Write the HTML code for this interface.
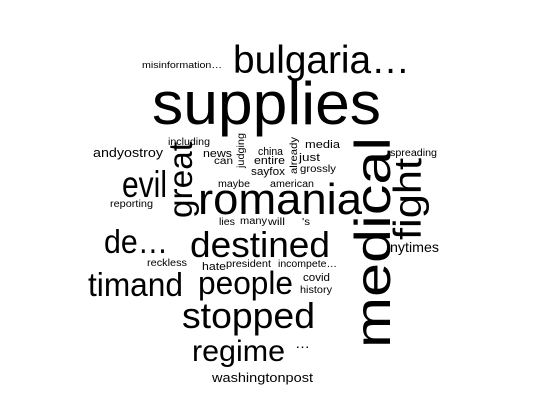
<!DOCTYPE html>
<html><head><meta charset="utf-8"><style>
html,body{margin:0;padding:0;background:#fff;}
svg{display:block;font-family:"Liberation Sans",Arial,sans-serif;}
</style></head><body>
<svg id="cloud" width="537" height="403" viewBox="0 0 537 403" xmlns="http://www.w3.org/2000/svg">
<rect width="537" height="403" fill="#fff"/>
</svg>
<script>
const words = ["supplies","medical","bulgaria…","romania","great","fight","evil","destined","de…","timand","people","stopped","regime","…","washingtonpost","nytimes","andyostroy","including","misinformation…","news","can","judging","china","entire","sayfox","already","media","just","grossly","spreading","maybe","american","reporting","lies","many","will","'s","reckless","hate","president","incompete…","covid","history"];
const sizes = [60,50,39,44,33,39,37,36,33,33,32,36,30,14,13,14,13,10,9,11,10,10,11,11,11,10,11,11,10,10,10,10,10,10,10,10,10,10,11,10,10,11,10];
const layout = [
 [152,124,229,0],[390,348,211,1],[233,73,177,0],[198,214,164,0],[192,218,76,1],[421,240,82,1],
 [122,197,45,0],[190,257,140,0],[104,253,64,0],[88,296,95,0],[198,294,95,0],[182,328,133,0],
 [192,361,93,0],[295,348,15,0],[212,382,101,0],[390,252,49,0],[93,157,70,0],[168,145,42,0],
 [142,68,80,0],[203,157,29,0],[214,164,19,0],[244,168,35,1],[258,155,25,0],[254,164,31,0],
 [251,175,34,0],[297,174,37,1],[305,148,35,0],[299,161,21,0],[300,172,36,0],[390,156,47,0],
 [218,187,32,0],[270,187,44,0],[110,207,43,0],[219,225,16,0],[240,224,27,0],[268,225,17,0],
 [302,225,8,0],[147,266,40,0],[202,270,24,0],[226,267,45,0],[278,267,59,0],[303,281,27,0],[300,293,32,0]
];
const svg=document.getElementById('cloud');
words.forEach((w,i)=>{
  const [x,y,len,rot]=layout[i];
  const t=document.createElementNS('http://www.w3.org/2000/svg','text');
  
  
  t.setAttribute('x',x);t.setAttribute('y',y);
  t.setAttribute('font-size',sizes[i]);
  t.setAttribute('textLength',len);
  t.setAttribute('lengthAdjust','spacingAndGlyphs');
  if(rot) t.setAttribute('transform','rotate(-90 '+x+' '+y+')');
  t.textContent=w;
  svg.appendChild(t);
});
</script>
</body></html>
